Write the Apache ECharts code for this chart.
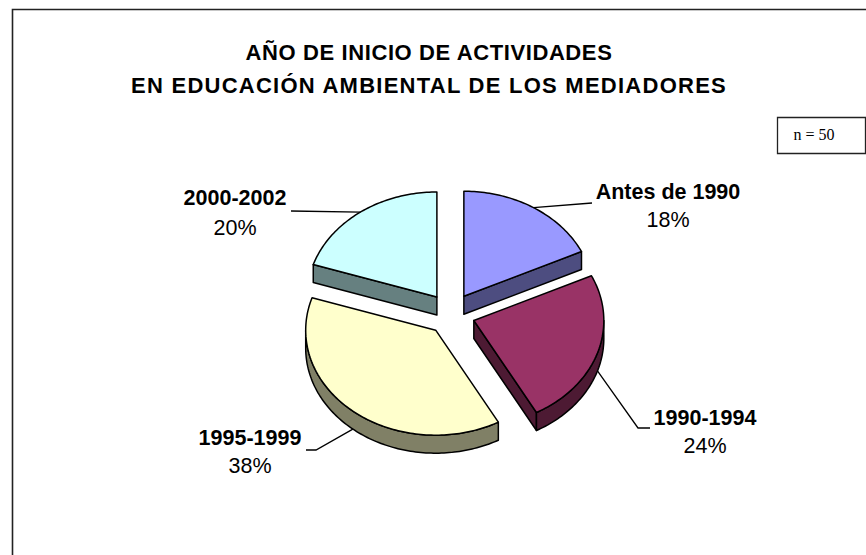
<!DOCTYPE html>
<html><head><meta charset="utf-8">
<style>html,body{margin:0;padding:0;background:#fff}#c{width:866px;height:555px}</style>
<script src="https://cdn.jsdelivr.net/npm/echarts@6/dist/echarts.min.js"></script>
</head><body><div id="c"></div>
<script>
const titleLines = ['AÑO DE INICIO DE ACTIVIDADES', 'EN EDUCACIÓN AMBIENTAL DE LOS MEDIADORES'];
const categories = ['Antes de 1990', '1990-1994', '1995-1999', '2000-2002'];
const percentages = [18, 24, 38, 20];
const sampleNote = 'n = 50';

const titleSpacing = ['0.6px', '1.25px'];
const topColors = ['#9999FF', '#993366', '#FFFFCC', '#CCFFFF'];
const sideColors = ['#4D4D80', '#4D1A33', '#808066', '#668080'];
// label centres and leader-line elbows, chart layout only
const labelCentres = [[668, 192], [705, 418], [250, 438], [235, 198]];
const percentCentres = [[668, 220], [705, 446], [250, 466], [235, 228]];
const leaderElbows = [[[592, 203]], [[638, 428], [650, 428]], [[316, 450], [306, 450]], [[291, 211]]];

const CX = 451, CY = 314, RX = 130, RY = 105, EX = 24, EY = 21, DEPTH = 18;
const total = percentages.reduce((a, b) => a + b, 0);
const STROKE = {stroke: '#000', lineWidth: 1.5, lineJoin: 'round'};
const SANS = '"Liberation Sans", Arial, sans-serif';

function renderSlice(params, api) {
  const i = params.dataIndex;
  const value = api.value(0);
  const before = percentages.slice(0, i).reduce((a, b) => a + b, 0);
  const a0 = before / total * Math.PI * 2;
  const a1 = a0 + value / total * Math.PI * 2;
  const mid = (a0 + a1) / 2;
  const ox = CX + EX * Math.sin(mid), oy = CY - EY * Math.cos(mid);
  const pt = (t, d) => [ox + RX * Math.sin(t), oy - RY * Math.cos(t) + (d || 0)];
  const arc = (s, e, d) => {
    const n = Math.max(2, Math.ceil((e - s) / 0.02)), out = [];
    for (let k = 0; k <= n; k++) out.push(pt(s + (e - s) * k / n, d));
    return out;
  };
  const side = sideColors[i], kids = [];
  const wall = pts => kids.push({type: 'polygon', shape: {points: pts}, style: {fill: side, ...STROKE}});
  const apex = [ox, oy], apexD = [ox, oy + DEPTH];
  if (Math.sin(a0) < -1e-6) wall([apex, pt(a0), pt(a0, DEPTH), apexD]);
  if (Math.sin(a1) > 1e-6) wall([apex, pt(a1), pt(a1, DEPTH), apexD]);
  const vs = Math.max(a0, Math.PI / 2), ve = Math.min(a1, Math.PI * 1.5);
  if (ve > vs) wall(arc(vs, ve, 0).concat(arc(vs, ve, DEPTH).reverse()));
  kids.push({type: 'polygon', shape: {points: [apex].concat(arc(a0, a1, 0))}, style: {fill: topColors[i], ...STROKE}});
  const visibleDepth = (mid > Math.PI / 2 && mid < Math.PI * 1.5) ? DEPTH : 0;
  kids.push({type: 'polyline', shape: {points: [pt(mid, visibleDepth)].concat(leaderElbows[i])},
    style: {fill: 'none', stroke: '#000', lineWidth: 1.3}});
  kids.push({type: 'text', style: {text: api.value(1), x: labelCentres[i][0], y: labelCentres[i][1],
    align: 'center', verticalAlign: 'middle', fill: '#000', font: 'bold 21.5px ' + SANS}});
  kids.push({type: 'text', style: {text: value + '%', x: percentCentres[i][0], y: percentCentres[i][1],
    align: 'center', verticalAlign: 'middle', fill: '#000', font: '21.5px ' + SANS}});
  return {type: 'group', children: kids};
}

const chart = echarts.init(document.getElementById('c'), null, {renderer: 'svg'});
chart.setOption({
  animation: false,
  backgroundColor: '#fff',
  title: {
    text: titleLines.join('\n'), left: 424, top: 31, textAlign: 'center',
    textStyle: {fontFamily: SANS, fontWeight: 'bold', fontSize: 22, lineHeight: 33, color: '#000'}
  },
  graphic: [
    {type: 'polyline', shape: {points: [[12.5, 555], [12.5, 9.5], [866, 9.5]]}, style: {fill: 'none', stroke: '#222', lineWidth: 1.6}, silent: true},
    {type: 'rect', shape: {x: 777.5, y: 117.5, width: 88, height: 36}, style: {fill: '#fff', stroke: '#222', lineWidth: 1.3}, silent: true},
    {type: 'text', style: {text: sampleNote, x: 814, y: 134, align: 'center', verticalAlign: 'middle', fill: '#000', font: '16px "Liberation Serif", "Times New Roman", serif'}, silent: true}
  ],
  series: [{
    type: 'custom', coordinateSystem: 'none', clip: false,
    renderItem: renderSlice,
    data: categories.map((c, i) => [percentages[i], c])
  }]
});
// the title in the reference is letter-spaced, line by line
function spaceTitle() {
  document.querySelectorAll('#c text, #c tspan').forEach(t => {
    const k = titleLines.indexOf(t.textContent);
    if (k >= 0) t.style.letterSpacing = titleSpacing[k];
  });
}
spaceTitle();
chart.on('finished', spaceTitle);
</script></body></html>
